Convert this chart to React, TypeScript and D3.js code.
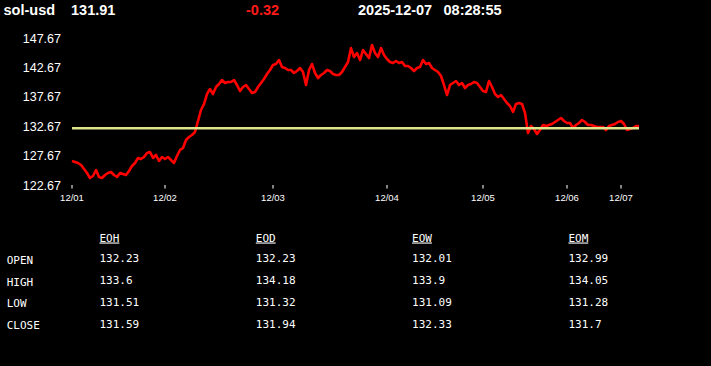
import React from "react";
import * as d3 from "d3";

const symbol = "sol-usd";
const lastPrice = "131.91";
const change = "-0.32";
const dateText = "2025-12-07";
const timeText = "08:28:55";

const priceSeries: number[] = [
  127.11, 126.94, 126.77, 126.43, 125.75, 125.07, 124.22, 124.56, 125.58, 124.39,
  124.22, 124.73, 125.07, 125.24, 124.73, 124.39, 125.07, 124.90, 124.73, 125.41,
  126.26, 126.77, 127.62, 127.45, 127.79, 128.47, 128.64, 127.62, 128.13, 127.11,
  127.79, 127.45, 127.79, 127.28, 126.77, 127.96, 128.98, 129.32, 130.68, 131.19,
  131.53, 132.04, 133.91, 135.78, 136.80, 138.50, 139.35, 138.50, 139.69, 140.20,
  140.88, 140.37, 140.54, 140.54, 140.88, 140.03, 139.01, 139.69, 140.03, 139.35,
  138.67, 138.84, 139.69, 140.37, 141.05, 141.90, 142.58, 143.43, 143.60, 144.28,
  143.09, 142.92, 142.58, 142.58, 142.07, 142.41, 142.92, 142.24, 140.03, 142.58,
  143.60, 142.07, 141.22, 141.73, 142.07, 142.58, 142.41, 141.90, 141.73, 141.73,
  142.24, 143.09, 143.94, 146.32, 144.79, 145.47, 144.28, 145.98, 145.30, 144.62,
  146.83, 145.47, 144.79, 146.32, 145.13, 144.45, 143.94, 143.77, 144.11, 143.77,
  143.94, 143.26, 143.26, 142.92, 142.41, 142.92, 143.09, 144.28, 143.60, 143.77,
  142.92, 142.58, 142.24, 141.56, 140.03, 138.33, 140.03, 140.37, 140.71, 140.03,
  140.37, 139.52, 140.03, 140.20, 140.54, 140.37, 139.69, 139.01, 138.84, 140.71,
  139.69, 138.50, 137.99, 138.33, 137.65, 136.97, 136.46, 135.44, 136.80, 136.97,
  136.80, 135.27, 131.87, 133.06, 132.55, 131.70, 132.38, 133.23, 133.06, 133.23,
  133.40, 133.74, 134.08, 134.42, 133.91, 133.57, 133.57, 132.72, 133.23, 133.57,
  134.08, 133.74, 133.23, 133.23, 133.06, 132.89, 132.89, 132.89, 132.38, 133.06,
  133.23, 133.40, 133.74, 133.91, 133.40, 132.38, 132.55, 132.72, 133.06, 133.06,
];

const referenceValue = 132.67;
const yTickValues = [122.67, 127.67, 132.67, 137.67, 142.67, 147.67];
const xTickIndex = [0, 31, 67, 105, 137, 165, 183];
const xTickLabels = ["12/01", "12/02", "12/03", "12/04", "12/05", "12/06", "12/07"];

const rowLabels = ["OPEN", "HIGH", "LOW", "CLOSE"];
const colLabels = ["EOH", "EOD", "EOW", "EOM"];
const eohValues = ["132.23", "133.6", "131.51", "131.59"];
const eodValues = ["132.23", "134.18", "131.32", "131.94"];
const eowValues = ["132.01", "133.9", "131.09", "132.33"];
const eomValues = ["132.99", "134.05", "131.28", "131.7"];
const tableColumns = [eohValues, eodValues, eowValues, eomValues];

export default function App() {
  const W = 711;
  const H = 366;
  const x = d3.scaleLinear().domain([0, priceSeries.length - 1]).range([72, 639]);
  const y = d3
    .scaleLinear()
    .domain([122.67, 147.67])
    .range([128.3 + (132.67 - 122.67) * 5.88, 128.3 - (147.67 - 132.67) * 5.88]);
  const line = d3
    .line<number>()
    .x((_, i) => x(i))
    .y((d) => y(d));
  const path = line(priceSeries) || "";

  const sans = "'Liberation Sans', Arial, sans-serif";
  const mono = "'DejaVu Sans Mono', monospace";
  const colX = d3.scaleLinear().domain([0, 1]).range([99.5, 255.8]);

  return (
    <div style={{ position: "fixed", left: 0, top: 0, width: W, height: H, background: "#000" }}>
      <svg width={W} height={H} style={{ display: "block" }}>
        <rect x={0} y={0} width={W} height={H} fill="#000" />
        {/* header */}
        <g fontFamily={sans} fontWeight="bold" fontSize={14.5}>
          <text x={3.5} y={15} fill="#fff">{symbol}</text>
          <text x={71} y={15} fill="#fff">{lastPrice}</text>
          <text x={246} y={15} fill="#ff1a1a">{change}</text>
          <text x={358} y={15} fill="#fff">{dateText}</text>
          <text x={443.5} y={15} fill="#fff">{timeText}</text>
        </g>
        {/* y labels */}
        <g fontFamily={sans} fontSize={12.5} fill="#fff">
          {yTickValues.map((v) => (
            <text key={v} x={61} y={y(v) + 2.4} textAnchor="end">
              {v.toFixed(2)}
            </text>
          ))}
        </g>
        {/* x ticks */}
        <g fontFamily={sans} fontSize={9.5} fill="#fff">
          {xTickIndex.map((ix, k) => (
            <g key={ix}>
              <line x1={x(ix)} x2={x(ix)} y1={185} y2={188.5} stroke="#ddd" strokeWidth={1.2} />
              <text x={x(ix)} y={201} textAnchor="middle">
                {xTickLabels[k]}
              </text>
            </g>
          ))}
        </g>
        {/* price line */}
        <path d={path} fill="none" stroke="#ff0000" strokeWidth={2.6} strokeLinejoin="round" />
        {/* reference line */}
        <line
          x1={x(0)}
          x2={x(priceSeries.length - 1)}
          y1={y(referenceValue)}
          y2={y(referenceValue)}
          stroke="#dce58c"
          strokeWidth={2.4}
        />
        {/* table */}
        <g fontFamily={mono} fontSize={11} fill="#fff">
          {colLabels.map((c, j) => (
            <text key={c} x={colX(j)} y={241.5} textDecoration="underline" style={{ textDecoration: "underline" }}>
              {c}
            </text>
          ))}
          {rowLabels.map((r, i) => (
            <text key={r} x={6.7} y={264.3 + i * 21.5}>
              {r}
            </text>
          ))}
          {tableColumns.map((col, j) =>
            col.map((v, i) => (
              <text key={j + "-" + i} x={colX(j)} y={262 + i * 22}>
                {v}
              </text>
            ))
          )}
        </g>
      </svg>
    </div>
  );
}
